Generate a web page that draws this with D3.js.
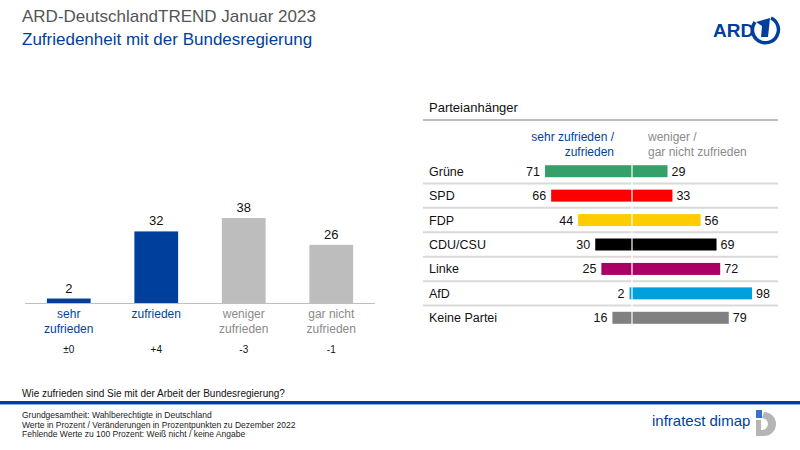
<!DOCTYPE html><html><head><meta charset="utf-8"><script src="https://cdn.jsdelivr.net/npm/d3@7"></script>
<style>body{margin:0}svg{font-family:Arial,"Liberation Sans",sans-serif}</style></head><body><svg width="800" height="450"></svg>
<script>
const cats=["sehr\nzufrieden","zufrieden","weniger\nzufrieden","gar nicht\nzufrieden"];
const vals=[2,32,38,26];
const changes=["±0","+4","-3","-1"];
const barColors=["#003f9c","#003f9c","#bdbdbd","#bdbdbd"];
const labelColors=["#003f9c","#003f9c","#8a8a8a","#8a8a8a"];
const parties=["Grüne","SPD","FDP","CDU/CSU","Linke","AfD","Keine Partei"];
const pos=[71,66,44,30,25,2,16];
const neg=[29,33,56,69,72,98,79];
const pColors=["#35a06a","#ff0000","#ffcc00","#000000","#aa0066","#00a0e0","#808080"];
const blue="#003f9c";
const svg=d3.select("svg");
svg.append("rect").attr("width",800).attr("height",450).attr("fill","#fff");
svg.append("text").attr("x",22).attr("y",22).attr("font-size",17).attr("fill","#555").text("ARD-DeutschlandTREND Januar 2023");
svg.append("text").attr("x",22).attr("y",45).attr("font-size",17).attr("fill",blue).text("Zufriedenheit mit der Bundesregierung");
// logo
svg.append("text").attr("x",713).attr("y",37).attr("font-size",19).attr("font-weight","bold").attr("fill",blue).text("ARD");
svg.append("path").attr("d","M755,22 A13,13 0 1 0 771,18").attr("fill","none").attr("stroke",blue).attr("stroke-width",3.5);
svg.append("path").attr("d","M756,22 L770,18 L768,37 L761,37 L762,26 Z").attr("fill",blue);

// left chart
const x=d3.scaleBand().domain(cats).range([25,375]).paddingInner(0.5).paddingOuter(0.25);
const y=d3.scaleLinear().domain([0,38]).range([303,218]);
const g=svg.append("g");
g.selectAll("rect.b").data(vals).join("rect").attr("x",(d,i)=>x(cats[i])).attr("width",x.bandwidth())
 .attr("y",d=>y(d)).attr("height",d=>303-y(d)).attr("fill",(d,i)=>barColors[i]);
g.append("line").attr("x1",25).attr("x2",375).attr("y1",303.5).attr("y2",303.5).attr("stroke","#bfbfbf");
g.selectAll("text.v").data(vals).join("text").attr("x",(d,i)=>x(cats[i])+x.bandwidth()/2).attr("y",d=>y(d)-6)
 .attr("text-anchor","middle").attr("font-size",13).attr("fill","#111").text(d=>d);
cats.forEach((c,i)=>{
  const t=g.append("text").attr("x",x(c)+x.bandwidth()/2).attr("y",318).attr("text-anchor","middle").attr("font-size",12).attr("fill",labelColors[i]);
  const lines=c.split("\n");
  if(lines.length==1) t.append("tspan").attr("x",x(c)+x.bandwidth()/2).text(lines[0]);
  else lines.forEach((l,k)=>t.append("tspan").attr("x",x(c)+x.bandwidth()/2).attr("dy",k?15:0).text(l));
  g.append("text").attr("x",x(c)+x.bandwidth()/2).attr("y",353).attr("text-anchor","middle").attr("font-size",10).attr("fill","#111").text(changes[i]);
});

// right chart
const r=svg.append("g");
r.append("text").attr("x",429).attr("y",112).attr("font-size",13).attr("fill","#111").text("Parteianhänger");
r.append("line").attr("x1",423).attr("x2",778).attr("y1",120).attr("y2",120).attr("stroke","#7f7f7f").attr("stroke-width",1);
r.append("text").attr("x",614).attr("y",141).attr("text-anchor","end").attr("font-size",12).attr("fill",blue)
 .call(t=>{t.append("tspan").attr("x",614).text("sehr zufrieden /");t.append("tspan").attr("x",614).attr("dy",15).text("zufrieden");});
r.append("text").attr("x",648).attr("y",141).attr("font-size",12).attr("fill","#8a8a8a")
 .call(t=>{t.append("tspan").attr("x",648).text("weniger /");t.append("tspan").attr("x",648).attr("dy",15).text("gar nicht zufrieden");});
const ys=d3.scaleBand().domain(parties).range([159,330]);
const cx=632;
const xs=d3.scaleLinear().domain([0,100]).range([0,122.5]);
const bh=12;
parties.forEach((p,i)=>{
  const yc=ys(p)+ys.bandwidth()/2;
  if(i>0) r.append("line").attr("x1",423).attr("x2",778).attr("y1",ys(p)).attr("y2",ys(p)).attr("stroke","#d9d9d9").attr("stroke-width",2);
  r.append("text").attr("x",429).attr("y",yc+4.5).attr("font-size",12.5).attr("fill","#111").text(p);
  r.append("rect").attr("x",cx-xs(pos[i])).attr("y",yc-bh/2).attr("width",xs(pos[i])).attr("height",bh).attr("fill",pColors[i]);
  r.append("rect").attr("x",cx).attr("y",yc-bh/2).attr("width",xs(neg[i])).attr("height",bh).attr("fill",pColors[i]);
  r.append("text").attr("x",cx-xs(pos[i])-5).attr("y",yc+4.5).attr("text-anchor","end").attr("font-size",12.5).attr("fill","#111").text(pos[i]);
  r.append("text").attr("x",cx+xs(neg[i])+4).attr("y",yc+4.5).attr("font-size",12.5).attr("fill","#111").text(neg[i]);
});
r.append("line").attr("x1",cx).attr("x2",cx).attr("y1",159).attr("y2",330).attr("stroke","#fff").attr("stroke-width",1.2);

// footer
svg.append("text").attr("x",22).attr("y",397).attr("font-size",10).attr("fill","#111").text("Wie zufrieden  sind Sie mit der Arbeit der Bundesregierung?");
svg.append("rect").attr("x",0).attr("y",401).attr("width",800).attr("height",3).attr("fill",blue);
svg.append("rect").attr("x",0).attr("y",404).attr("width",800).attr("height",1).attr("fill","#8fa9d4");
["Grundgesamtheit:  Wahlberechtigte  in Deutschland","Werte in Prozent / Veränderungen  in Prozentpunkten zu Dezember  2022","Fehlende  Werte zu 100 Prozent: Weiß nicht / keine Angabe"]
 .forEach((s,i)=>svg.append("text").attr("x",22).attr("y",418+i*9.5).attr("font-size",8.5).attr("fill","#222").text(s));
svg.append("text").attr("x",652).attr("y",426).attr("font-size",15).attr("fill",blue).text("infratest dimap");
svg.append("rect").attr("x",756).attr("y",410).attr("width",6).attr("height",8).attr("fill","#3a6fd0");
svg.append("path").attr("d","M764,412 A12,12 0 0 1 764,436 L756,436 L756,430 L762,430 A6,6 0 0 0 762,418 Z").attr("fill","#b5b5b5");
svg.append("rect").attr("x",756).attr("y",420).attr("width",5).attr("height",10).attr("fill","#b5b5b5");
</script></body></html>
